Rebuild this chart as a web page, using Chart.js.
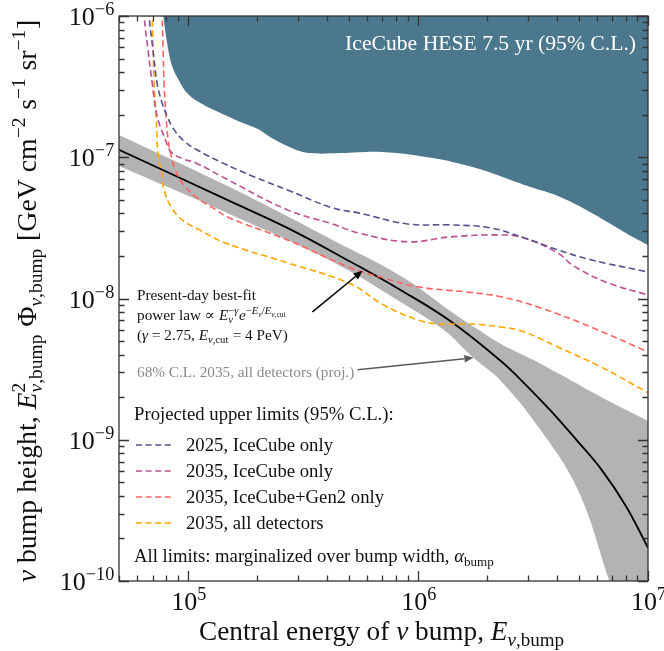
<!DOCTYPE html>
<html>
<head>
<meta charset="utf-8">
<script src="https://cdn.jsdelivr.net/npm/chart.js@4.4.1/dist/chart.umd.min.js"></script>
<style>
  html, body { margin: 0; padding: 0; background: #fff; }
  #wrap { width: 664px; height: 651px; }
</style>
</head>
<body>
<div id="wrap"><canvas id="chart" width="664" height="651"></canvas></div>
<script>
// energies in GeV, flux heights in GeV cm^-2 s^-1 sr^-1
const heseE     = [7.78e4, 8.18e4, 8.51e4, 9.04e4, 9.89e4, 1.13e5, 1.38e5, 1.73e5, 2.0e5, 2.34e5, 2.87e5, 3.4e5, 4.59e5, 7.0e5, 1.16e6, 1.53e6, 1.91e6, 2.53e6, 3.16e6, 4.05e6, 5.2e6, 6.89e6, 8.43e6, 1e7];
const heseLimit = [1.0e-6, 5.84e-7, 4.43e-7, 3.58e-7, 2.85e-7, 2.42e-7, 2.06e-7, 1.75e-7, 1.59e-7, 1.35e-7, 1.15e-7, 1.07e-7, 1.07e-7, 1.09e-7, 9.88e-8, 8.97e-8, 8.13e-8, 6.91e-8, 6.07e-8, 5.32e-8, 4.38e-8, 3.37e-8, 2.77e-8, 2.39e-8];

const bestFitE = [5e4, 1.51e5, 2.7e5, 5.08e5, 8.38e5, 1.38e6, 2.29e6, 2.94e6, 3.78e6, 4.85e6, 6.24e6, 8.01e6, 1e7];
const bestFit  = [1.13e-7, 4.91e-8, 3.16e-8, 1.82e-8, 1.15e-8, 6.93e-9, 3.61e-9, 2.45e-9, 1.6e-9, 1.01e-9, 6.22e-10, 3.4e-10, 1.72e-10];

const bandUpperE = [5e4, 1.51e5, 4.24e5, 8.38e5, 1.38e6, 1.83e6, 2.29e6, 3.16e6, 4.18e6, 6.24e6, 1e7];
const bandUpper  = [1.44e-7, 6.17e-8, 2.6e-8, 1.45e-8, 8.17e-9, 6.0e-9, 4.77e-9, 3.68e-9, 2.88e-9, 2.01e-9, 1.36e-9];
const bandLowerE = [5e4, 1.51e5, 4.24e5, 8.38e5, 1.29e6, 1.74e6, 2.29e6, 3.41e6, 4.95e6, 6.69e6, 1e7];
const bandLower  = [8.67e-8, 3.97e-8, 1.82e-8, 9.46e-9, 6.0e-9, 3.8e-9, 2.61e-9, 1.17e-9, 4.42e-10, 1.07e-10, 1.4e-11];

const ic2025E = [6.69e4, 6.76e4, 7.03e4, 7.32e4, 7.7e4, 8.09e4, 8.6e4, 9.6e4, 1.09e5, 1.41e5, 1.94e5, 2.7e5, 4.24e5, 5.5e5, 8.99e5, 1.38e6, 2.07e6, 2.88e6, 4.05e6, 5.64e6, 1e7];
const ic2025  = [1.53e-6, 1.0e-6, 5.74e-7, 3.36e-7, 2.42e-7, 1.96e-7, 1.6e-7, 1.3e-7, 1.13e-7, 9.12e-8, 7.26e-8, 5.87e-8, 4.38e-8, 4.04e-8, 3.37e-8, 3.32e-8, 3.16e-8, 2.69e-8, 2.21e-8, 1.88e-8, 1.54e-8];

const ic2035E = [6.36e4, 6.43e4, 6.68e4, 6.97e4, 7.32e4, 7.93e4, 8.43e4, 9.51e4, 1.08e5, 1.41e5, 2.7e5, 4.24e5, 5.5e5, 8.99e5, 1.38e6, 2.26e6, 2.88e6, 4.05e6, 4.75e6, 6.69e6, 1e7];
const ic2035  = [1.53e-6, 1.0e-6, 5.84e-7, 3.36e-7, 1.96e-7, 1.35e-7, 1.09e-7, 9.73e-8, 9.12e-8, 7.26e-8, 4.24e-8, 3.37e-8, 2.91e-8, 2.52e-8, 2.73e-8, 2.82e-8, 2.69e-8, 2.1e-8, 1.7e-8, 1.29e-8, 1.06e-8];

const gen2E = [7.63e4, 7.7e4, 7.78e4, 7.85e4, 8.01e4, 8.18e4, 8.43e4, 8.8e4, 9.41e4, 1.08e5, 1.32e5, 1.51e5, 2.7e5, 5.08e5, 7.07e5, 9.94e5, 1.64e6, 2.29e6, 3.41e6, 5.64e6, 1e7];
const gen2  = [1.53e-6, 1.0e-6, 5.84e-7, 3.36e-7, 1.96e-7, 1.33e-7, 1.02e-7, 8.1e-8, 6.58e-8, 5.24e-8, 4.24e-8, 3.72e-8, 2.6e-8, 1.65e-8, 1.4e-8, 1.21e-8, 1.11e-8, 1.03e-8, 8.58e-9, 6.29e-9, 4.19e-9];

const allDetE = [6.89e4, 6.97e4, 7.11e4, 7.25e4, 7.4e4, 7.63e4, 7.85e4, 8.43e4, 9.41e4, 1.12e5, 1.45e5, 2.7e5, 5.08e5, 7.07e5, 9.94e5, 1.22e6, 1.64e6, 2.29e6, 2.88e6, 4.05e6, 6.24e6, 1e7];
const allDet  = [1.53e-6, 1.0e-6, 3.36e-7, 1.96e-7, 1.02e-7, 8.13e-8, 5.87e-8, 4.45e-8, 3.6e-8, 3.06e-8, 2.47e-8, 1.79e-8, 1.27e-8, 9.01e-9, 7.06e-9, 6.61e-9, 6.61e-9, 6.29e-9, 5.81e-9, 4.54e-9, 3.28e-9, 2.15e-9];

const seriesLabels = ['2025, IceCube only', '2035, IceCube only', '2035, IceCube+Gen2 only', '2035, all detectors'];
const seriesColors = ['#58508d', '#bc5090', '#ff6361', '#ffa600'];

const xTickValues = [1e5, 1e6, 1e7];
const xTickLabels = ['5', '6', '7'];
const yTickValues = [1e-10, 1e-9, 1e-8, 1e-7, 1e-6];
const yTickLabels = ['−10', '−9', '−8', '−7', '−6'];

// arrow end points, in data coordinates
const fitArrow  = { from: [3.47e5, 8.04e-9], to: [5.73e5, 1.57e-8] };
const bandArrow = { from: [5.45e5, 3.13e-9], to: [1.74e6, 3.8e-9] };

const pts = (xs, ys) => xs.map((x, i) => ({ x, y: ys[i] }));

const SERIF = '"Liberation Serif", "DejaVu Serif", serif';
const font = (size, italic) => (italic ? 'italic ' : '') + size.toFixed(2) + 'px ' + SERIF;

// tiny rich-text renderer: strings, {t, i}, {sup:[...], sub:[...]}
function rich(ctx, items, x, y, size, draw) {
  let cx = x;
  for (const it of items) {
    if (typeof it === 'string' || it.t !== undefined) {
      const t = typeof it === 'string' ? it : it.t;
      ctx.font = font(size, it.i);
      if (draw) ctx.fillText(t, cx, y);
      cx += ctx.measureText(t).width;
    } else {
      const ss = size * 0.7;
      let w = 0;
      if (it.sup) w = Math.max(w, rich(ctx, it.sup, cx, y - size * 0.38, ss, draw) - cx);
      if (it.sub) w = Math.max(w, rich(ctx, it.sub, cx, y + size * 0.22, ss, draw) - cx);
      cx += w + size * 0.03;
    }
  }
  return cx;
}
const richWidth = (ctx, items, size) => rich(ctx, items, 0, 0, size, false);
const fitSize = (ctx, items, width) => 100 * width / richWidth(ctx, items, 100);
function drawRich(ctx, items, x, y, size, align) {
  const w = richWidth(ctx, items, size);
  const x0 = align === 'center' ? x - w / 2 : align === 'right' ? x - w : x;
  rich(ctx, items, x0, y, size, true);
}

function arrow(ctx, x, y, a, color) {
  const x0 = x.getPixelForValue(a.from[0]), y0 = y.getPixelForValue(a.from[1]);
  const x1 = x.getPixelForValue(a.to[0]), y1 = y.getPixelForValue(a.to[1]);
  const ang = Math.atan2(y1 - y0, x1 - x0), L = 9, W = 3.8;
  ctx.strokeStyle = color; ctx.fillStyle = color; ctx.lineWidth = 1.5;
  ctx.beginPath();
  ctx.moveTo(x0, y0);
  ctx.lineTo(x1 - L * Math.cos(ang), y1 - L * Math.sin(ang));
  ctx.stroke();
  ctx.beginPath();
  ctx.moveTo(x1, y1);
  ctx.lineTo(x1 - L * Math.cos(ang) + W * Math.sin(ang), y1 - L * Math.sin(ang) - W * Math.cos(ang));
  ctx.lineTo(x1 - L * Math.cos(ang) - W * Math.sin(ang), y1 - L * Math.sin(ang) + W * Math.cos(ang));
  ctx.closePath();
  ctx.fill();
}

function logTicks(min, max) {
  const major = [], minor = [];
  for (let d = Math.floor(Math.log10(min)); d <= Math.ceil(Math.log10(max)); d++) {
    for (let m = 1; m <= 9; m++) {
      const v = m * Math.pow(10, d);
      if (v < min * 0.999 || v > max * 1.001) continue;
      (m === 1 ? major : minor).push(v);
    }
  }
  return { major, minor };
}

const overlay = {
  id: 'overlay',
  afterDraw(chart) {
    const { ctx, chartArea: a, scales: { x, y } } = chart;
    ctx.save();

    // frame and inward ticks on all four sides
    ctx.strokeStyle = '#333';
    ctx.lineWidth = 1.3;
    ctx.strokeRect(a.left, a.top, a.right - a.left, a.bottom - a.top);
    const xt = logTicks(x.min, x.max), yt = logTicks(y.min, y.max);
    ctx.beginPath();
    const tick = (list, len, horiz) => list.forEach(v => {
      if (horiz) {
        const px = Math.round(x.getPixelForValue(v)) + 0.5;
        ctx.moveTo(px, a.bottom); ctx.lineTo(px, a.bottom - len);
        ctx.moveTo(px, a.top); ctx.lineTo(px, a.top + len);
      } else {
        const py = Math.round(y.getPixelForValue(v)) + 0.5;
        ctx.moveTo(a.left, py); ctx.lineTo(a.left + len, py);
        ctx.moveTo(a.right, py); ctx.lineTo(a.right - len, py);
      }
    });
    tick(xt.major, 10, true); tick(xt.minor, 5.5, true);
    tick(yt.major, 10, false); tick(yt.minor, 5.5, false);
    ctx.stroke();

    ctx.fillStyle = '#111';
    ctx.textBaseline = 'alphabetic';
    // tick labels
    xTickValues.forEach((v, i) => drawRich(ctx, ['10', { sup: [xTickLabels[i]] }], x.getPixelForValue(v) + 1, 610, 26, 'center'));
    yTickValues.forEach((v, i) => drawRich(ctx, ['10', { sup: [yTickLabels[i]] }], 115, y.getPixelForValue(v) + 9, 26, 'right'));

    // axis titles
    const xTitle = ['Central energy of ', { t: 'ν', i: 1 }, ' bump, ', { t: 'E', i: 1 }, { sub: [{ t: 'ν', i: 1 }, ',bump'] }];
    drawRich(ctx, xTitle, 382, 640, fitSize(ctx, xTitle, 366), 'center');
    const yTitle = [{ t: 'ν', i: 1 }, ' bump height, ', { t: 'E', i: 1 }, { sup: ['2'], sub: [{ t: 'ν', i: 1 }, ',bump'] },
      ' Φ', { sub: [{ t: 'ν', i: 1 }, ',bump'] }, ' [GeV cm', { sup: ['−2'] }, ' s', { sup: ['−1'] }, ' sr', { sup: ['−1'] }, ']'];
    ctx.save();
    ctx.translate(36, 301);
    ctx.rotate(-Math.PI / 2);
    drawRich(ctx, yTitle, 0, 0, fitSize(ctx, yTitle, 563), 'center');
    ctx.restore();

    // HESE label
    ctx.fillStyle = '#fff';
    const hese = ['IceCube HESE 7.5 yr (95% C.L.)'];
    drawRich(ctx, hese, 636, 50, fitSize(ctx, hese, 291), 'right');

    // best-fit annotation
    ctx.fillStyle = '#111';
    const l1 = ['Present-day best-fit'];
    const s1 = fitSize(ctx, l1, 119);
    drawRich(ctx, l1, 137, 300, s1, 'left');
    drawRich(ctx, ['power law ∝ ', { t: 'E', i: 1 }, { sup: ['−', { t: 'γ', i: 1 }], sub: [{ t: 'ν', i: 1 }] }, { t: 'e', i: 1 },
      { sup: ['−', { t: 'E', i: 1 }, { sub: [{ t: 'ν', i: 1 }] }, '/', { t: 'E', i: 1 }, { sub: [{ t: 'ν', i: 1 }, ',cut'] }] }], 137, 320, s1, 'left');
    drawRich(ctx, ['(', { t: 'γ', i: 1 }, ' = 2.75, ', { t: 'E', i: 1 }, { sub: [{ t: 'ν', i: 1 }, ',cut'] }, ' = 4 PeV)'], 137, 340, s1, 'left');
    arrow(ctx, x, y, fitArrow, '#000');

    ctx.fillStyle = '#8a8a8a';
    drawRich(ctx, ['68% C.L. 2035, all detectors (proj.)'], 137, 377, s1, 'left');
    arrow(ctx, x, y, bandArrow, '#5a5a5a');

    // legend
    ctx.fillStyle = '#111';
    const head = ['Projected upper limits (95% C.L.):'];
    const s2 = fitSize(ctx, head, 260);
    drawRich(ctx, head, 134, 420, s2, 'left');
    seriesLabels.forEach((lab, i) => {
      const ly = 445 + i * 26;
      ctx.strokeStyle = seriesColors[i];
      ctx.lineWidth = 1.5;
      ctx.setLineDash([6, 3.6]);
      ctx.beginPath(); ctx.moveTo(136, ly); ctx.lineTo(171, ly); ctx.stroke();
      ctx.setLineDash([]);
      drawRich(ctx, [lab], 186, ly + 6, s2, 'left');
    });
    drawRich(ctx, ['All limits: marginalized over bump width, ', { t: 'α', i: 1 }, { sub: ['bump'] }], 134, 562, s2, 'left');

    ctx.restore();
  }
};

const dashed = (data, i) => ({
  data: pts(data[0], data[1]), borderColor: seriesColors[i], borderWidth: 1.6,
  borderDash: [6.5, 3.6], fill: false, tension: 0.4, order: i + 1
});

new Chart(document.getElementById('chart'), {
  type: 'line',
  data: {
    datasets: [
      dashed([ic2025E, ic2025], 0),
      dashed([ic2035E, ic2035], 1),
      dashed([gen2E, gen2], 2),
      dashed([allDetE, allDet], 3),
      { data: pts(bestFitE, bestFit), borderColor: '#000', borderWidth: 1.8, fill: false, tension: 0.4, order: 5 },
      { data: pts(bandUpperE, bandUpper), borderWidth: 0, borderColor: 'rgba(0,0,0,0)', backgroundColor: '#b3b3b3', fill: 6, tension: 0.4, order: 6 },
      { data: pts(bandLowerE, bandLower), borderWidth: 0, borderColor: 'rgba(0,0,0,0)', fill: false, tension: 0.4, order: 7 },
      { data: pts(heseE, heseLimit), borderWidth: 0, borderColor: 'rgba(0,0,0,0)', backgroundColor: 'rgba(0,63,92,0.7)', fill: 'end', tension: 0.4, order: 8 }
    ]
  },
  options: {
    responsive: false,
    devicePixelRatio: 1,
    animation: false,
    layout: { padding: { top: 16, right: 16, left: 0, bottom: 0 } },
    elements: { point: { radius: 0 } },
    datasets: { line: { clip: 0 } },
    plugins: { legend: { display: false }, tooltip: { enabled: false } },
    scales: {
      x: {
        type: 'logarithmic', min: 5e4, max: 1e7,
        ticks: { display: false }, grid: { display: false }, border: { display: false },
        afterFit: s => { s.height = 70; }
      },
      y: {
        type: 'logarithmic', min: 1e-10, max: 1e-6,
        ticks: { display: false }, grid: { display: false }, border: { display: false },
        afterFit: s => { s.width = 119; }
      }
    }
  },
  plugins: [overlay]
});
</script>
</body>
</html>
